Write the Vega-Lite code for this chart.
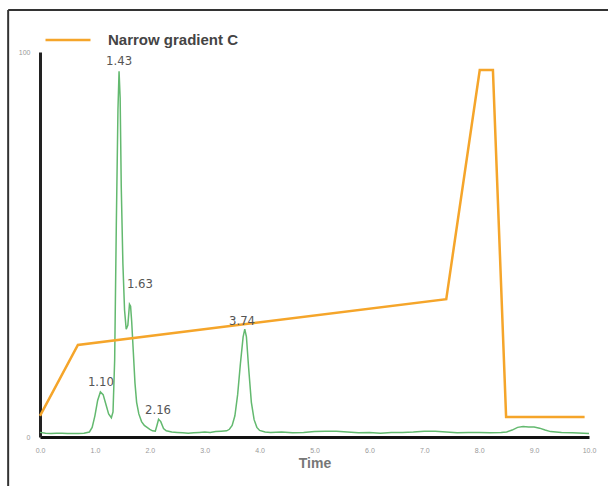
{
  "$schema": "https://vega.github.io/schema/vega-lite/v6.json",
  "width": 549,
  "height": 385,
  "autosize": {"type": "none"},
  "padding": {"left": 40, "top": 52, "right": 19, "bottom": 49},
  "background": "white",
  "config": {
    "view": {"stroke": null},
    "font": "Liberation Sans",
    "axisX": {"domainColor": "#111", "domainWidth": 3, "ticks": false, "labelFontSize": 7, "labelColor": "#999", "labelPadding": 9, "titleFontSize": 14, "titleFontWeight": 600, "titleColor": "#777", "titlePadding": 3, "grid": false, "labelFlush": false},
    "axisY": {"domainColor": "#222", "domainWidth": 3, "ticks": false, "labelFontSize": 7, "labelColor": "#999", "labelPadding": 10, "grid": false},
    "legend": {"orient": "none", "legendX": 4, "legendY": -36, "symbolSize": 2025, "symbolStrokeWidth": 2.5, "labelFontSize": 15, "labelFontWeight": "bold", "labelColor": "#444", "labelOffset": 16, "padding": 0}
  },
  "datasets": {
    "trace": [
      {"t": 0.0, "v": 1.2}, {"t": 0.1, "v": 1.0}, {"t": 0.2, "v": 0.9}, {"t": 0.3, "v": 1.0}, {"t": 0.4, "v": 1.0},
      {"t": 0.5, "v": 0.9}, {"t": 0.6, "v": 0.9}, {"t": 0.7, "v": 0.9}, {"t": 0.8, "v": 1.0}, {"t": 0.9, "v": 1.3},
      {"t": 0.95, "v": 2.5}, {"t": 1.0, "v": 5.5}, {"t": 1.05, "v": 9.5}, {"t": 1.1, "v": 11.7}, {"t": 1.15, "v": 11.0},
      {"t": 1.2, "v": 8.5}, {"t": 1.25, "v": 6.0}, {"t": 1.3, "v": 5.0}, {"t": 1.33, "v": 6.5}, {"t": 1.36, "v": 20},
      {"t": 1.39, "v": 55}, {"t": 1.42, "v": 85}, {"t": 1.44, "v": 95}, {"t": 1.46, "v": 88}, {"t": 1.48, "v": 65},
      {"t": 1.51, "v": 45}, {"t": 1.54, "v": 33}, {"t": 1.57, "v": 28}, {"t": 1.6, "v": 29}, {"t": 1.63, "v": 34.5},
      {"t": 1.65, "v": 34}, {"t": 1.67, "v": 30}, {"t": 1.7, "v": 22}, {"t": 1.73, "v": 14}, {"t": 1.76, "v": 9},
      {"t": 1.8, "v": 6}, {"t": 1.85, "v": 4}, {"t": 1.9, "v": 3}, {"t": 1.95, "v": 2.5}, {"t": 2.0, "v": 2},
      {"t": 2.05, "v": 1.6}, {"t": 2.1, "v": 1.5}, {"t": 2.13, "v": 3}, {"t": 2.16, "v": 4.6}, {"t": 2.2, "v": 4},
      {"t": 2.25, "v": 2.2}, {"t": 2.3, "v": 1.6}, {"t": 2.4, "v": 1.3}, {"t": 2.5, "v": 1.2}, {"t": 2.6, "v": 1.1},
      {"t": 2.7, "v": 1.0}, {"t": 2.8, "v": 1.1}, {"t": 2.9, "v": 1.2}, {"t": 3.0, "v": 1.3}, {"t": 3.1, "v": 1.2},
      {"t": 3.2, "v": 1.4}, {"t": 3.3, "v": 1.5}, {"t": 3.4, "v": 1.6}, {"t": 3.45, "v": 2.0}, {"t": 3.5, "v": 3.0},
      {"t": 3.55, "v": 5.5}, {"t": 3.6, "v": 11}, {"t": 3.65, "v": 19}, {"t": 3.7, "v": 26}, {"t": 3.73, "v": 28},
      {"t": 3.76, "v": 26}, {"t": 3.8, "v": 18}, {"t": 3.85, "v": 9}, {"t": 3.9, "v": 4.5}, {"t": 3.95, "v": 2.5},
      {"t": 4.0, "v": 1.7}, {"t": 4.1, "v": 1.3}, {"t": 4.2, "v": 1.2}, {"t": 4.4, "v": 1.3}, {"t": 4.6, "v": 1.1},
      {"t": 4.8, "v": 1.2}, {"t": 5.0, "v": 1.4}, {"t": 5.2, "v": 1.5}, {"t": 5.4, "v": 1.5}, {"t": 5.6, "v": 1.3},
      {"t": 5.8, "v": 1.1}, {"t": 6.0, "v": 1.2}, {"t": 6.2, "v": 1.0}, {"t": 6.4, "v": 1.2}, {"t": 6.6, "v": 1.2},
      {"t": 6.8, "v": 1.3}, {"t": 7.0, "v": 1.5}, {"t": 7.2, "v": 1.5}, {"t": 7.4, "v": 1.3}, {"t": 7.6, "v": 1.1},
      {"t": 7.8, "v": 1.2}, {"t": 8.0, "v": 1.2}, {"t": 8.2, "v": 1.1}, {"t": 8.4, "v": 1.2}, {"t": 8.5, "v": 1.3},
      {"t": 8.6, "v": 1.8}, {"t": 8.7, "v": 2.5}, {"t": 8.8, "v": 2.7}, {"t": 8.9, "v": 2.6}, {"t": 9.0, "v": 2.6},
      {"t": 9.1, "v": 2.3}, {"t": 9.2, "v": 1.8}, {"t": 9.3, "v": 1.4}, {"t": 9.5, "v": 1.2}, {"t": 9.7, "v": 1.1},
      {"t": 9.9, "v": 1.0}, {"t": 10.0, "v": 0.9}
    ],
    "gradient": [
      {"t": 0.0, "v": 5.5, "series": "Narrow gradient C"},
      {"t": 0.69, "v": 23.9, "series": "Narrow gradient C"},
      {"t": 7.4, "v": 35.8, "series": "Narrow gradient C"},
      {"t": 8.01, "v": 95.3, "series": "Narrow gradient C"},
      {"t": 8.25, "v": 95.3, "series": "Narrow gradient C"},
      {"t": 8.49, "v": 5.2, "series": "Narrow gradient C"},
      {"t": 9.92, "v": 5.2, "series": "Narrow gradient C"}
    ],
    "labels": [
      {"t": 1.44, "v": 96.5, "label": "1.43"},
      {"t": 1.82, "v": 38.7, "label": "1.63"},
      {"t": 1.11, "v": 13.2, "label": "1.10"},
      {"t": 2.15, "v": 6.0, "label": "2.16"},
      {"t": 3.68, "v": 29.1, "label": "3.74"}
    ]
  },
  "layer": [
    {
      "data": {"values": [{}]},
      "mark": {"type": "rule", "color": "#333", "strokeWidth": 2},
      "encoding": {
        "x": {"datum": -0.58, "type": "quantitative", "scale": {"domain": [0, 10], "nice": false}, "title": "Time"},
        "x2": {"datum": 10.5},
        "y": {"datum": 110.9, "type": "quantitative", "scale": {"domain": [0, 100], "nice": false}, "title": null}
      }
    },
    {
      "data": {"values": [{}]},
      "mark": {"type": "rule", "color": "#333", "strokeWidth": 2},
      "encoding": {
        "x": {"datum": -0.58, "type": "quantitative", "title": "Time"},
        "y": {"datum": 110.9, "type": "quantitative", "title": null},
        "y2": {"datum": -14}
      }
    },
    {
      "data": {"name": "trace"},
      "mark": {"type": "line", "color": "#63b96f", "strokeWidth": 1.5},
      "encoding": {
        "x": {"field": "t", "type": "quantitative", "scale": {"domain": [0, 10], "nice": false}, "title": "Time",
              "axis": {"values": [0, 1, 2, 3, 4, 5, 6, 7, 8, 9, 10], "format": ".1f"}},
        "y": {"field": "v", "type": "quantitative", "scale": {"domain": [0, 100], "nice": false}, "title": null,
              "axis": {"values": [0, 100]}}
      }
    },
    {
      "data": {"name": "gradient"},
      "mark": {"type": "line", "strokeWidth": 2.5},
      "encoding": {
        "x": {"field": "t", "type": "quantitative", "title": "Time"},
        "y": {"field": "v", "type": "quantitative", "title": null},
        "color": {"field": "series", "type": "nominal", "scale": {"domain": ["Narrow gradient C"], "range": ["#f5a52a"]}, "legend": {"title": null}}
      }
    },
    {
      "data": {"name": "labels"},
      "mark": {"type": "text", "font": "DejaVu Sans Condensed, Liberation Sans, sans-serif", "fontSize": 13, "color": "#555", "baseline": "alphabetic", "align": "center"},
      "encoding": {
        "x": {"field": "t", "type": "quantitative", "title": "Time"},
        "y": {"field": "v", "type": "quantitative", "title": null},
        "text": {"field": "label"}
      }
    }
  ]
}
